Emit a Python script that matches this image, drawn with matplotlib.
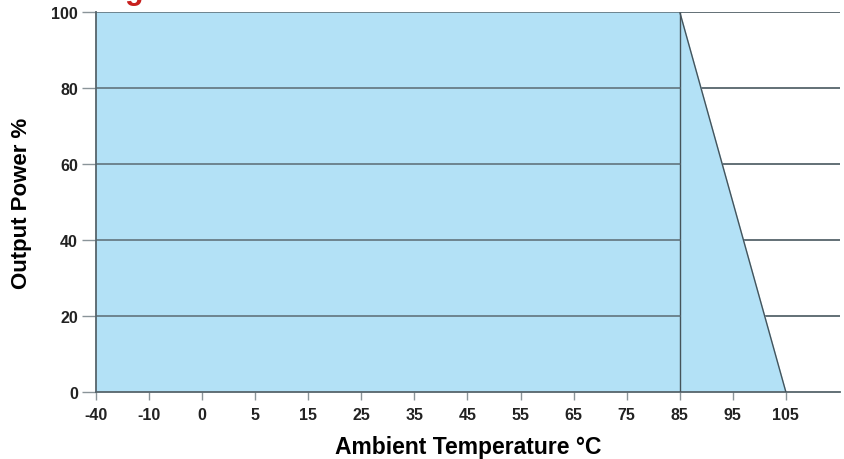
import matplotlib.pyplot as plt
import numpy as np

# Tick labels along the temperature axis (evenly spaced, not to scale)
temp_labels = ['-40', '-10', '0', '5', '15', '25', '35', '45', '55', '65', '75', '85', '95', '105']
# Derating curve: temperature (as label) and output power %
curve_temps = ['-40', '-40', '85', '105']
curve_power = [0, 100, 100, 0]
power_ticks = [0, 20, 40, 60, 80, 100]

plt.rcParams['font.family'] = ['Liberation Sans', 'DejaVu Sans']

fig = plt.figure(figsize=(8.45, 4.6), dpi=100)
ax = fig.add_axes([96 / 845, 67 / 460, 744 / 845, 380 / 460])

pos = {t: i for i, t in enumerate(temp_labels)}
xs = [pos[t] for t in curve_temps]

# Grid
for p in power_ticks[1:]:
    ax.axhline(p, color='#56646b', linewidth=1.3, zorder=1)

ax.fill(xs, curve_power, color='#b3e1f6', zorder=2)
ax.plot(xs[2:], curve_power[2:], color='#45535a', linewidth=1.0, zorder=3)
# vertical at 85
ax.plot([pos['85'], pos['85']], [0, 100], color='#45535a', linewidth=1.0, zorder=3)
for p in power_ticks[1:]:
    ax.plot([0, pos['85']], [p, p], color='#56646b', linewidth=1.3, zorder=3, alpha=0.8)

ax.set_xlim(0, 14.02)
ax.set_ylim(0, 100)
ax.set_xticks(range(len(temp_labels)))
ax.set_xticklabels(temp_labels)
ax.set_yticks(power_ticks)

for s in ['top', 'right']:
    ax.spines[s].set_visible(False)
ax.spines['left'].set_color('#56646b')
ax.spines['bottom'].set_color('#56646b')
ax.spines['left'].set_linewidth(1.3)
ax.spines['bottom'].set_linewidth(1.3)

ax.tick_params(axis='x', length=6, width=1, color='#8a9499', pad=5)
ax.tick_params(axis='y', length=10, width=1, color='#8a9499', pad=3)
for lab in ax.get_xticklabels() + ax.get_yticklabels():
    lab.set_fontweight('bold')
    lab.set_fontsize(11.5)
    lab.set_color('#222222')

ax.set_xlabel('Ambient Temperature °C', fontsize=16.5, fontweight='bold', labelpad=9)
ax.set_ylabel('Output Power %', fontsize=16, fontweight='bold', labelpad=14)

# cut-off red title at the very top (only the descender is visible)
fig.text(0.17, 1.0 + 1.5 / 460, 'g', color='#c8201e', fontsize=22, fontweight='bold',
         ha='right', va='baseline')

fig.savefig('out.png', dpi=100)
